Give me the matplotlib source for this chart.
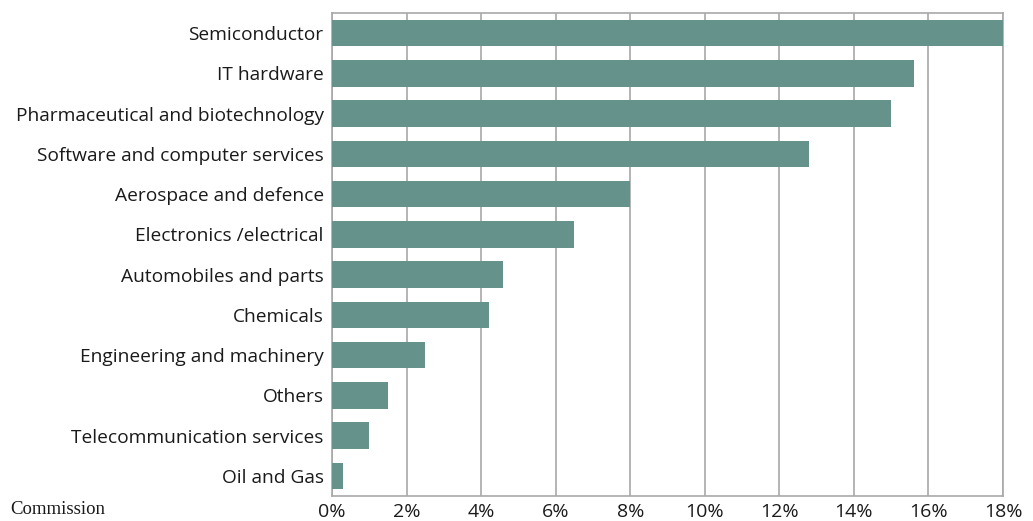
import matplotlib
matplotlib.use("Agg")
import matplotlib.pyplot as plt
from matplotlib.ticker import FuncFormatter

sectors = [
    "Semiconductor",
    "IT hardware",
    "Pharmaceutical and biotechnology",
    "Software and computer services",
    "Aerospace and defence",
    "Electronics /electrical",
    "Automobiles and parts",
    "Chemicals",
    "Engineering and machinery",
    "Others",
    "Telecommunication services",
    "Oil and Gas",
]
rd_intensity = [18.0, 15.6, 15.0, 12.8, 8.0, 6.5, 4.6, 4.2, 2.5, 1.5, 1.0, 0.3]
x_ticks = [0, 2, 4, 6, 8, 10, 12, 14, 16, 18]

bar_color = "#65938c"
grid_color = "#a8a8a8"

plt.rcParams["font.family"] = ["Open Sans", "DejaVu Sans"]

fig = plt.figure(figsize=(10.33, 5.21), dpi=100)
ax = fig.add_axes([332 / 1033, 1 - 496 / 521, (1003 - 332) / 1033, (496 - 13) / 521])

pos = list(range(len(sectors)))
ax.barh(pos, rd_intensity, height=0.66, color=bar_color, zorder=3)
ax.set_ylim(len(sectors) - 0.5, -0.5)
ax.set_xlim(0, 18)
ax.set_yticks(pos)
ax.set_yticklabels(sectors, fontsize=13.8, color="#1a1a1a")
ax.set_xticks(x_ticks)
ax.xaxis.set_major_formatter(FuncFormatter(lambda v, _: f"{v:.0f}%"))
ax.tick_params(axis="x", labelsize=14, length=0, pad=5, colors="#1a1a1a")
ax.tick_params(axis="y", length=0, pad=6)
ax.grid(axis="x", color=grid_color, linewidth=1.2, zorder=0)
for s in ax.spines.values():
    s.set_color(grid_color)
    s.set_linewidth(1.2)

fig.text(105 / 1033, 1 - 509 / 521, "Commission",
         ha="right", va="center", fontsize=13.5, family="Liberation Serif",
         color="#1a1a1a")

fig.savefig("out.png", dpi=100)
